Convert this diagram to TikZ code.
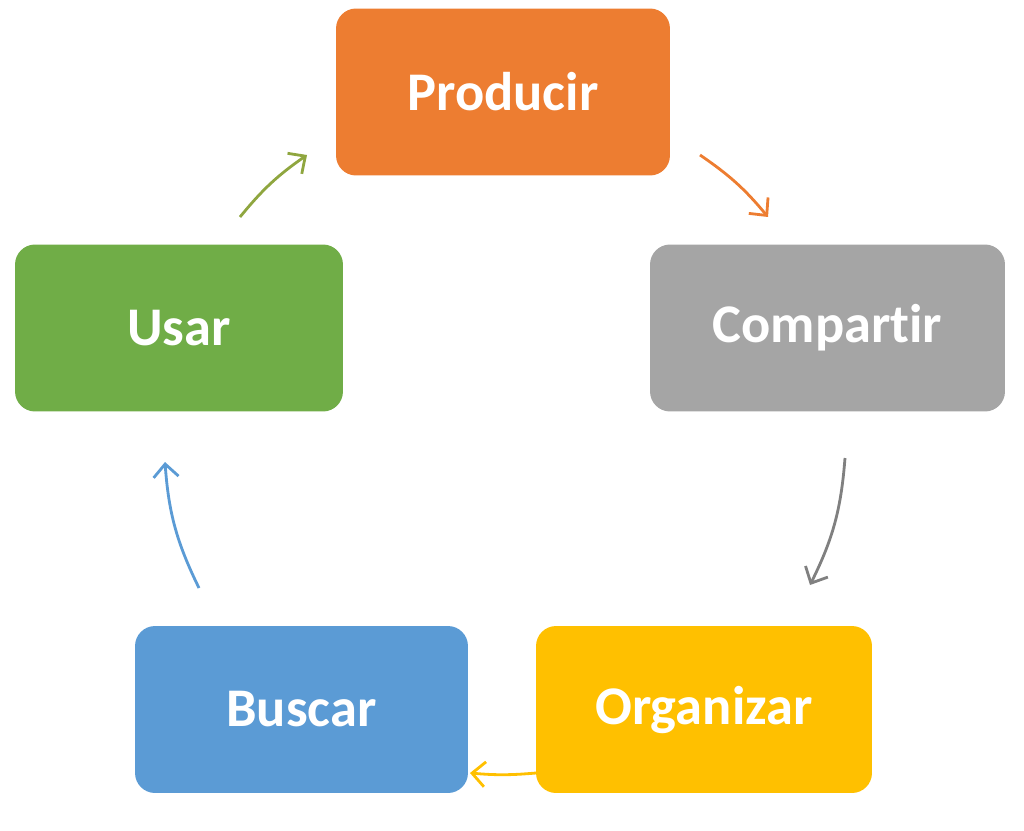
\documentclass[tikz,border=0pt]{standalone}
\usepackage{fontspec}
\setmainfont{Carlito}[RawFeature={-liga;-dlig;-clig}]
\usetikzlibrary{arrows.meta}
\definecolor{cOrange}{HTML}{ED7D31}
\definecolor{cGray}{HTML}{A5A5A5}
\definecolor{cYellow}{HTML}{FFC000}
\definecolor{cBlue}{HTML}{5B9BD5}
\definecolor{cGreen}{HTML}{70AD47}
\definecolor{cOlive}{HTML}{8FA63F}

\begin{document}
\begin{tikzpicture}[x=0.02cm,y=-0.02cm,
	box/.style={rectangle,rounded corners=0.4cm,minimum width=6.68cm,minimum height=3.34cm,text=white,font=\fontsize{31}{36}\selectfont\bfseries},
	cyc/.style={line width=1.6pt,-{Straight Barb[length=2.6mm,width=5mm]}}]
	\useasboundingbox (0,0) rectangle (1024,831);

	\node[box,fill=cOrange]							(producir)	at (503,92)		{Producir};
	\node[box,fill=cGray,minimum width=7.1cm]		(compartir)	at (827.5,328)	{Compart\kern0pt ir};
	\node[box,fill=cYellow,minimum width=6.72cm]	(organizar)	at (704,709.5)	{Organizar};
	\node[box,fill=cBlue,minimum width=6.66cm]		(buscar)	at (301.5,709.5){Buscar};
	\node[box,fill=cGreen,minimum width=6.56cm]		(usar)		at (179,328)	{Usar};

	\coordinate (p1) at (700,155);
	\coordinate (c0) at (768,217);
	\coordinate (c1) at (845,458);
	\coordinate (o0) at (810,585);
	\coordinate (o1) at (536,773);
	\coordinate (b0) at (470,773);
	\coordinate (b1) at (199,588);
	\coordinate (u0) at (165,462);
	\coordinate (u1) at (240,217);
	\coordinate (p0) at (307,155);

	\draw[cyc,cOrange]	(p1) to[bend left=8]	(c0);
	\draw[cyc,gray]		(c1) to[bend left=11]	(o0);
	\draw[cyc,cYellow]	(o1) to[bend left=5]	(b0);
	\draw[cyc,cBlue]	(b1) to[bend left=11]	(u0);
	\draw[cyc,cOlive]	(u1) to[bend left=8]	(p0);
\end{tikzpicture}
\end{document}
